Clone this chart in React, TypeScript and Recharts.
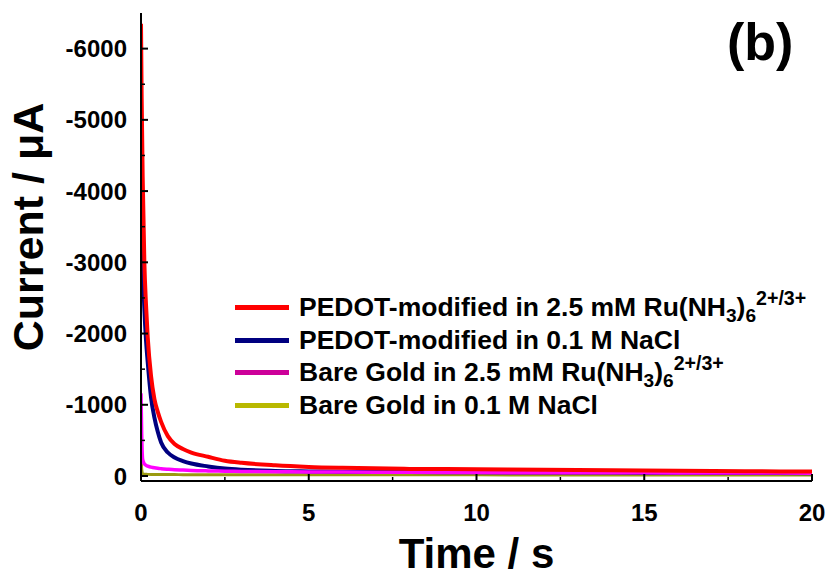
import { LineChart, Line, XAxis, YAxis, Legend, Label } from 'recharts'

const FONT = '"Liberation Sans", Arial, Helvetica, sans-serif'

// time in s, current in µA (cathodic, plotted with inverted axis)
const time = [0, 0.02, 0.05, 0.1, 0.15, 0.2, 0.3, 0.4, 0.5, 0.6, 0.8, 1, 1.25, 1.5, 2, 2.5, 3, 4, 5, 6, 8, 10, 12, 14, 16, 18, 20]
const pedotRu = [-6350, -5300, -4200, -3000, -2400, -1950, -1400, -1080, -900, -760, -560, -450, -380, -330, -270, -215, -185, -150, -128, -115, -100, -95, -88, -82, -75, -68, -62]
const pedotNaCl = [-4300, -3700, -3000, -2350, -1900, -1600, -1100, -820, -620, -470, -330, -260, -210, -175, -135, -105, -88, -72, -65, -60, -55, -52, -50, -48, -45, -43, -40]
const goldRu = [-1160, -600, -230, -170, -150, -138, -125, -115, -108, -103, -95, -88, -83, -78, -72, -68, -65, -60, -57, -55, -52, -48, -46, -45, -44, -42, -40]
const goldNaCl = [-500, -100, -30, -25, -24, -23, -22, -22, -21, -21, -20, -20, -19, -19, -18, -18, -18, -17, -17, -16, -16, -16, -15, -15, -15, -15, -15]

const seriesKeys = ['pedotRu', 'pedotNaCl', 'goldRu', 'goldNaCl']
const seriesNames = [
  'PEDOT-modified in 2.5 mM Ru(NH3)6 2+/3+',
  'PEDOT-modified in 0.1 M NaCl',
  'Bare Gold in 2.5 mM Ru(NH3)6 2+/3+',
  'Bare Gold in 0.1 M NaCl',
]
const lineColors = ['#ff0000', '#000080', '#ff00ff', '#9a9a10']
const legendColors = ['#ff0000', '#000080', '#cc0099', '#b8b800']
const lineWidths = [4, 4, 3.5, 3]
const drawOrder = [3, 1, 2, 0]

const xTicks = [0, 2.5, 5, 7.5, 10, 12.5, 15, 17.5, 20]
const yTicks = [-6000, -5500, -5000, -4500, -4000, -3500, -3000, -2500, -2000, -1500, -1000, -500, 0]

const data = time.map((t, i) => ({
  t,
  pedotRu: pedotRu[i],
  pedotNaCl: pedotNaCl[i],
  goldRu: goldRu[i],
  goldNaCl: goldNaCl[i],
}))

const tickText = { fontSize: 24, fontWeight: 'bold' as const, fontFamily: FONT, fill: '#000' }

const BottomTick = (props: any) => {
  const { x, y, payload } = props
  const major = payload.value % 5 === 0
  return (
    <g>
      <line x1={x} x2={x} y1={y} y2={y - (major ? 7 : 4)} stroke="#000" strokeWidth={major ? 2 : 1.5} />
      {major && <text x={x} y={y + 40} textAnchor="middle" {...tickText}>{payload.value}</text>}
    </g>
  )
}

const TopTick = (props: any) => {
  const { x, y, payload } = props
  const major = payload.value % 5 === 0
  return <line x1={x} x2={x} y1={y} y2={y + (major ? 7 : 4)} stroke="#000" strokeWidth={major ? 2 : 1.5} />
}

const LeftTick = (props: any) => {
  const { x, y, payload } = props
  const major = payload.value % 1000 === 0
  return (
    <g>
      <line x1={x} x2={x + (major ? 7 : 4)} y1={y} y2={y} stroke="#000" strokeWidth={major ? 2 : 1.5} />
      {major && <text x={x - 14} y={y + 8.5} textAnchor="end" {...tickText}>{payload.value}</text>}
    </g>
  )
}

const RightTick = (props: any) => {
  const { x, y, payload } = props
  const major = payload.value % 1000 === 0
  return <line x1={x} x2={x - (major ? 7 : 4)} y1={y} y2={y} stroke="#000" strokeWidth={major ? 2 : 1.5} />
}

const YTitle = (props: any) => {
  const { viewBox } = props
  const cx = viewBox.x + 43
  const cy = viewBox.y + viewBox.height / 2 - 20
  return (
    <text x={cx} y={cy} transform={`rotate(-90, ${cx}, ${cy})`} textAnchor="middle"
      fontSize={43} fontWeight="bold" fontFamily={FONT} fill="#000">
      Current / μA
    </text>
  )
}

const XTitle = (props: any) => {
  const { viewBox } = props
  return (
    <text x={viewBox.x + viewBox.width / 2} y={viewBox.y + 87} textAnchor="middle"
      fontSize={42} fontWeight="bold" fontFamily={FONT} fill="#000">
      Time / s
    </text>
  )
}

function formatName(name: string) {
  const k = name.indexOf('Ru(NH3)6')
  if (k < 0) return name
  return (
    <>
      {name.slice(0, k)}Ru(NH
      <span style={{ fontSize: '0.72em', position: 'relative', top: '0.3em' }}>3</span>)
      <span style={{ fontSize: '0.72em', position: 'relative', top: '0.3em' }}>6</span>
      <span style={{ fontSize: '0.74em', position: 'relative', top: '-0.55em' }}>2+/3+</span>
    </>
  )
}

const LegendBox = () => (
  <div style={{ fontFamily: FONT, fontWeight: 'bold', fontSize: 26.5, color: '#000' }}>
    {seriesNames.map((n, i) => (
      <div key={n} style={{ display: 'flex', alignItems: 'center', height: 32.7, whiteSpace: 'nowrap' }}>
        <span style={{ display: 'inline-block', width: 54, height: 5, background: legendColors[i], marginRight: 10 }} />
        <span>{formatName(n)}</span>
      </div>
    ))}
  </div>
)

export default function App() {
  return (
    <div style={{ position: 'absolute', left: 0, top: 0, width: 829, height: 578, background: '#fff' }}>
      <LineChart width={829} height={578} data={data} margin={{ top: 13, right: 17, left: 0, bottom: 0 }}>
        <XAxis
          dataKey="t" type="number" domain={[0, 20]} ticks={xTicks} interval={0}
          allowDataOverflow height={97} tickSize={0} tickMargin={0}
          axisLine={{ stroke: '#000', strokeWidth: 2 }} tickLine={false} tick={BottomTick}
        >
          <Label content={XTitle} />
        </XAxis>
        <XAxis
          xAxisId="top" orientation="top" type="number" domain={[0, 20]} ticks={xTicks} interval={0}
          allowDataOverflow height={0} tickSize={0} tickMargin={0}
          axisLine={{ stroke: '#000', strokeWidth: 2 }} tickLine={false} tick={TopTick}
        />
        <YAxis
          type="number" domain={[-6500, 70]} reversed ticks={yTicks} interval={0}
          allowDataOverflow width={141} tickSize={0} tickMargin={0}
          axisLine={{ stroke: '#000', strokeWidth: 2 }} tickLine={false} tick={LeftTick}
        >
          <Label content={YTitle} />
        </YAxis>
        <YAxis
          yAxisId="right" orientation="right" type="number" domain={[-6500, 70]} reversed ticks={yTicks} interval={0}
          allowDataOverflow width={0} tickSize={0} tickMargin={0}
          axisLine={{ stroke: '#000', strokeWidth: 2 }} tickLine={false} tick={RightTick}
        />
        <Legend
          layout="vertical" align="center" verticalAlign="middle"
          wrapperStyle={{ left: 235, top: 291, width: 'auto' }}
          content={LegendBox}
        />
        {drawOrder.map(i => (
          <Line
            key={seriesKeys[i]}
            type="monotone"
            dataKey={seriesKeys[i]}
            name={seriesNames[i]}
            stroke={lineColors[i]}
            strokeWidth={lineWidths[i]}
            dot={false}
            activeDot={false}
            isAnimationActive={false}
          />
        ))}
      </LineChart>
      <div style={{ position: 'absolute', left: 727, top: 16, fontFamily: FONT, fontWeight: 'bold', fontSize: 52, lineHeight: '52px' }}>
        (b)
      </div>
    </div>
  )
}
